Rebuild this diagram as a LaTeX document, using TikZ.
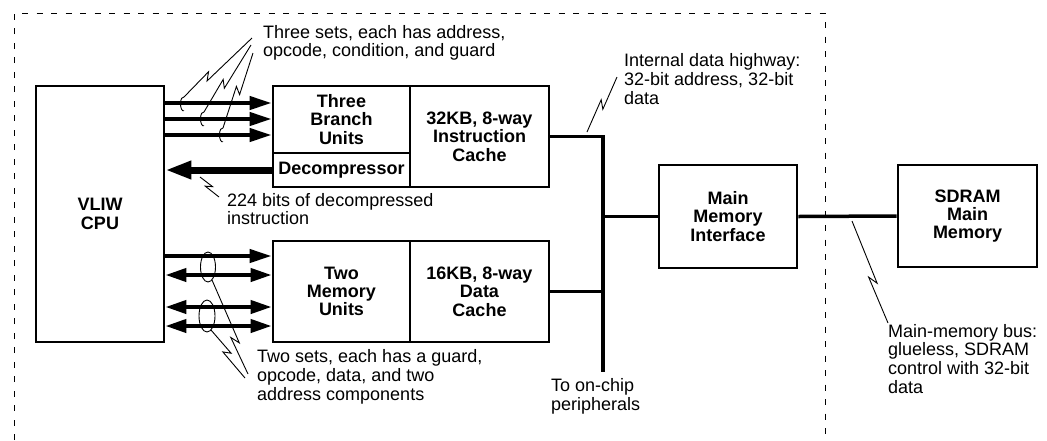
\documentclass[tikz,border=0pt]{standalone}
\usepackage{fontspec}
\setmainfont{Liberation Sans}
\usetikzlibrary{arrows.meta,calc}
\newcommand\zigline[5]{%
  \draw[leader] (#1) -- ($(#1)!#3!(#2)!#5!90:(#2)$) -- ($(#1)!#4!(#2)!#5!-90:(#2)$) -- (#2);}
\begin{document}
\begin{tikzpicture}[x=1pt,y=-1pt,
  box/.style={draw, line width=2.7pt, inner sep=0pt, align=center,
    font=\bfseries\fontsize{18}{18.3}\selectfont},
  lbl/.style={anchor=north west, inner sep=0pt, align=left,
    font=\fontsize{18}{18.7}\selectfont},
  arr/.style={line width=4pt, -{Triangle[length=22pt,width=13pt]}},
  darr/.style={line width=4pt, {Triangle[length=21pt,width=13pt]}-{Triangle[length=21pt,width=13pt]}},
  bigarr/.style={line width=7pt, -{Triangle[length=26pt,width=17pt]}},
  bus/.style={line width=3.5pt},
  leader/.style={line width=0.9pt, line join=miter},
  frame/.style={line width=1pt, dash pattern=on 6pt off 8.5pt}]

\useasboundingbox (0,0) rectangle (1047,440);

% dashed chip boundary
\draw[frame] (14,440) -- (14,13) -- (825,13) -- (825,440);

% boxes
\node[box, minimum width=128pt, minimum height=256pt] (cpu) at (100,214) {VLIW\\CPU};
\node[box, minimum width=137pt, minimum height=67pt] (branch) at (341.5,119.5) {Three\\Branch\\Units};
\node[box, minimum width=137pt, minimum height=34pt] (decomp) at (341.5,170) {Decompressor};
\node[box, minimum width=139pt, minimum height=101pt] (icache) at (479.5,136.5) {32KB, 8-way\\Instruction\\Cache};
\node[box, minimum width=137pt, minimum height=101pt] (mem) at (341.5,291.5) {Two\\Memory\\Units};
\node[box, minimum width=139pt, minimum height=101pt] (dcache) at (479.5,291.5) {16KB, 8-way\\Data\\Cache};
\node[box, minimum width=138pt, minimum height=103pt] (mmi) at (728,216.5) {Main\\Memory\\Interface};
\node[box, minimum width=139pt, minimum height=102pt] (sdram) at (967.5,216) {SDRAM\\Main\\Memory};

% internal bus
\coordinate (busbot) at (603,372);
\draw[bus] (icache.east) -| (busbot);
\draw[bus] (dcache.east) -- (dcache.east -| busbot);
\draw[bus] (mmi.west) -- (mmi.west -| busbot);
\draw[bus] (mmi.east) -- (sdram.west);

% arrow rows
\coordinate (r1) at (0,103);
\coordinate (r2) at (0,119);
\coordinate (r3) at (0,135);
\coordinate (m1) at (0,256);
\coordinate (m2) at (0,275);
\coordinate (m3) at (0,307);
\coordinate (m4) at (0,326);

% bundle marks
\draw[leader] (184,97) arc[start angle=80, end angle=280, x radius=3pt, y radius=7pt];
\draw[leader] (204,112) arc[start angle=80, end angle=280, x radius=3pt, y radius=7pt];
\draw[leader] (223,128) arc[start angle=80, end angle=280, x radius=3pt, y radius=7pt];
\draw[leader] (208,267) ellipse[x radius=7.5pt, y radius=15pt];
\draw[leader] (207,316) ellipse[x radius=8pt, y radius=16pt];

\draw[arr] (cpu.east |- r1) -- (branch.west |- r1);
\draw[arr] (cpu.east |- r2) -- (branch.west |- r2);
\draw[arr] (cpu.east |- r3) -- (branch.west |- r3);
\draw[bigarr] (decomp.west) -- (decomp.west -| cpu.east);
\draw[arr] (cpu.east |- m1) -- (mem.west |- m1);
\draw[darr] (cpu.east |- m2) -- (mem.west |- m2);
\draw[darr] (cpu.east |- m3) -- (mem.west |- m3);
\draw[darr] (cpu.east |- m4) -- (mem.west |- m4);

% leaders
\coordinate (b1s) at (184,97);  \coordinate (b1e) at (252,38);
\coordinate (b2s) at (204,112); \coordinate (b2e) at (251,45);
\coordinate (b3s) at (223,128); \coordinate (b3e) at (253,53);
\coordinate (ds) at (200,177);  \coordinate (de) at (219,197);
\coordinate (u1s) at (212,280); \coordinate (u1e) at (248,374);
\coordinate (u2s) at (211,330); \coordinate (u2e) at (245,378);
\coordinate (hs) at (587,132);  \coordinate (he) at (617,77);
\coordinate (ms) at (852,221);  \coordinate (me) at (888,323);
\zigline{b1s}{b1e}{0.39}{0.31}{3pt}
\zigline{b2s}{b2e}{0.46}{0.38}{3pt}
\zigline{b3s}{b3e}{0.54}{0.46}{3pt}
\zigline{ds}{de}{0.57}{0.37}{2.5pt}
\zigline{u1s}{u1e}{0.68}{0.60}{3pt}
\zigline{u2s}{u2e}{0.52}{0.42}{3pt}
\zigline{hs}{he}{0.56}{0.44}{3pt}
\zigline{ms}{me}{0.62}{0.54}{3pt}

% labels
\node[lbl] (t1) at (263,24.9) {Three sets, each has address,\\opcode, condition, and guard};
\node[lbl] (t2) at (227,193) {224 bits of decompressed\\instruction};
\node[lbl] (t3) at (257,349.6) {Two sets, each has a guard,\\opcode, data, and two\\address components};
\node[lbl] (t4) at (624,53.6) {Internal data highway:\\32-bit address, 32-bit\\data};
\node[lbl] (t5) at (551,378.6) {To on-chip\\peripherals};
\node[lbl] (t6) at (888,324) {Main-memory bus:\\glueless, SDRAM\\control with 32-bit\\data};
\end{tikzpicture}
\end{document}
